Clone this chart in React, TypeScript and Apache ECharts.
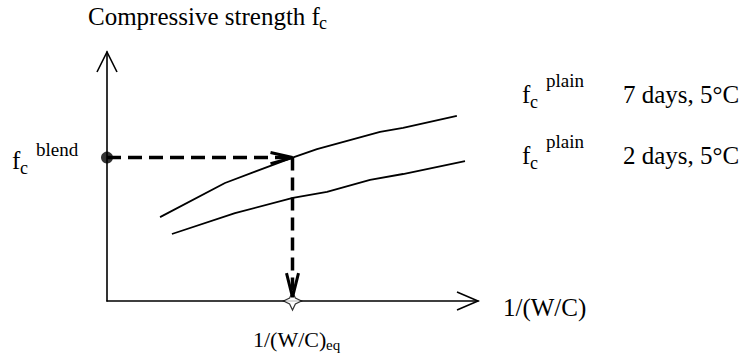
import React, { useEffect, useRef } from "react";
import * as echarts from "echarts";

// Schematic values (abstract units: x = 1/(W/C), y = compressive strength)
const axisMaxX = 100;
const axisMaxY = 100;
const curve7dX = [14.3, 31.8, 50, 56.6, 73.6, 79.8, 94.3];
const curve7dY = [33.7, 47.4, 57.6, 61.0, 67.9, 69.5, 74.3];
const curve2dX = [17.5, 34.5, 50.1, 59.3, 70.9, 79.8, 96.5];
const curve2dY = [26.9, 35.3, 41.4, 43.8, 48.6, 51.0, 56.2];
const blendStrength = 57.6;
const eqRatio = 50;
const arrowTipY = 1.6;

const FONT = "Liberation Serif";

function txt(text: string, x: number, baseline: number, size: number) {
  return {
    type: "text",
    x,
    y: baseline - size * 0.34,
    style: {
      text,
      fontFamily: FONT,
      fontSize: size,
      fill: "#000",
      verticalAlign: "middle",
      align: "left",
    },
    silent: true,
  };
}

export default function App() {
  const ref = useRef<HTMLDivElement>(null);
  useEffect(() => {
    if (!ref.current) return;
    const chart = echarts.init(ref.current, undefined, { renderer: "svg" });
    const zip = (xs: number[], ys: number[]) => xs.map((x, i) => [x, ys[i]]);
    const star =
      "path://M0,-10 L3.2,-3.2 L10,0 L3.2,3.2 L0,10 L-3.2,3.2 L-10,0 L-3.2,-3.2 Z";
    chart.setOption({
      animation: false,
      backgroundColor: "#fff",
      textStyle: { fontFamily: FONT },
      grid: { left: 107, top: 52, right: 265, bottom: 56 },
      xAxis: {
        type: "value",
        min: 0,
        max: axisMaxX,
        axisLine: { show: true, lineStyle: { color: "#000", width: 1.6 } },
        axisTick: { show: false },
        axisLabel: { show: false },
        splitLine: { show: false },
      },
      yAxis: {
        type: "value",
        min: 0,
        max: axisMaxY,
        axisLine: { show: true, lineStyle: { color: "#000", width: 1.6 } },
        axisTick: { show: false },
        axisLabel: { show: false },
        splitLine: { show: false },
      },
      series: [
        {
          name: "7 days, 5°C",
          type: "line",
          data: zip(curve7dX, curve7dY),
          showSymbol: false,
          lineStyle: { color: "#000", width: 1.8 },
          silent: true,
        },
        {
          name: "2 days, 5°C",
          type: "line",
          data: zip(curve2dX, curve2dY),
          showSymbol: false,
          lineStyle: { color: "#000", width: 1.8 },
          silent: true,
        },
        {
          name: "blend-h",
          type: "line",
          data: [
            [0, blendStrength],
            [eqRatio, blendStrength],
          ],
          showSymbol: false,
          lineStyle: { color: "#000", width: 3.5, type: [14, 7] },
          silent: true,
        },
        {
          name: "blend-v",
          type: "line",
          data: [
            [eqRatio, blendStrength],
            [eqRatio, arrowTipY],
          ],
          showSymbol: false,
          lineStyle: { color: "#000", width: 3.5, type: [13, 7] },
          silent: true,
        },
        {
          name: "blend-point",
          type: "scatter",
          data: [[0, blendStrength]],
          symbolSize: 12,
          itemStyle: { color: "#000" },
          silent: true,
          z: 5,
        },
        {
          name: "eq-point",
          type: "scatter",
          data: [[eqRatio, 0]],
          symbol: star,
          symbolSize: 18,
          itemStyle: { color: "#fff", borderColor: "#000", borderWidth: 1.2 },
          silent: true,
          z: 5,
        },
      ],
    });

    const px = (p: number[]) => chart.convertToPixel({ gridIndex: 0 }, p) as number[];
    const yTip = px([0, axisMaxY]);
    const xTip = px([axisMaxX, 0]);
    const hTip = px([eqRatio, blendStrength]);
    const vTip = px([eqRatio, arrowTipY]);
    const chevron = (pts: number[][], w: number) => ({
      type: "polyline",
      shape: { points: pts },
      style: { stroke: "#000", lineWidth: w, fill: "none" },
      silent: true,
      z: 10,
    });

    chart.setOption({
      graphic: [
        chevron(
          [
            [yTip[0] - 10, yTip[1] + 20],
            yTip,
            [yTip[0] + 10, yTip[1] + 20],
          ],
          1.6
        ),
        chevron(
          [
            [xTip[0] - 21, xTip[1] - 9],
            xTip,
            [xTip[0] - 21, xTip[1] + 9],
          ],
          1.6
        ),
        chevron(
          [
            [hTip[0] - 22, hTip[1] - 5],
            hTip,
            [hTip[0] - 22, hTip[1] + 6],
          ],
          3
        ),
        chevron(
          [
            [vTip[0] - 6, vTip[1] - 24],
            vTip,
            [vTip[0] + 6, vTip[1] - 24],
          ],
          3
        ),
        txt("Compressive strength f", 88, 25, 25),
        txt("c", 319, 29, 18),
        txt("f", 12, 169, 25),
        txt("c", 20, 174, 18),
        txt("blend", 36, 156, 19),
        txt("1/(W/C)", 253, 347, 22),
        txt("eq", 326, 350, 15),
        txt("1/(W/C)", 503, 316, 25),
        txt("f", 522, 103, 25),
        txt("c", 530, 108, 18),
        txt("plain", 546, 87, 19),
        txt("7 days, 5°C", 623, 103, 25),
        txt("f", 522, 164, 25),
        txt("c", 530, 169, 18),
        txt("plain", 546, 148, 19),
        txt("2 days, 5°C", 623, 164, 25),
      ],
    });

    return () => chart.dispose();
  }, []);
  return (
    <div
      ref={ref}
      style={{ position: "absolute", left: 0, top: 0, width: 743, height: 357 }}
    />
  );
}
